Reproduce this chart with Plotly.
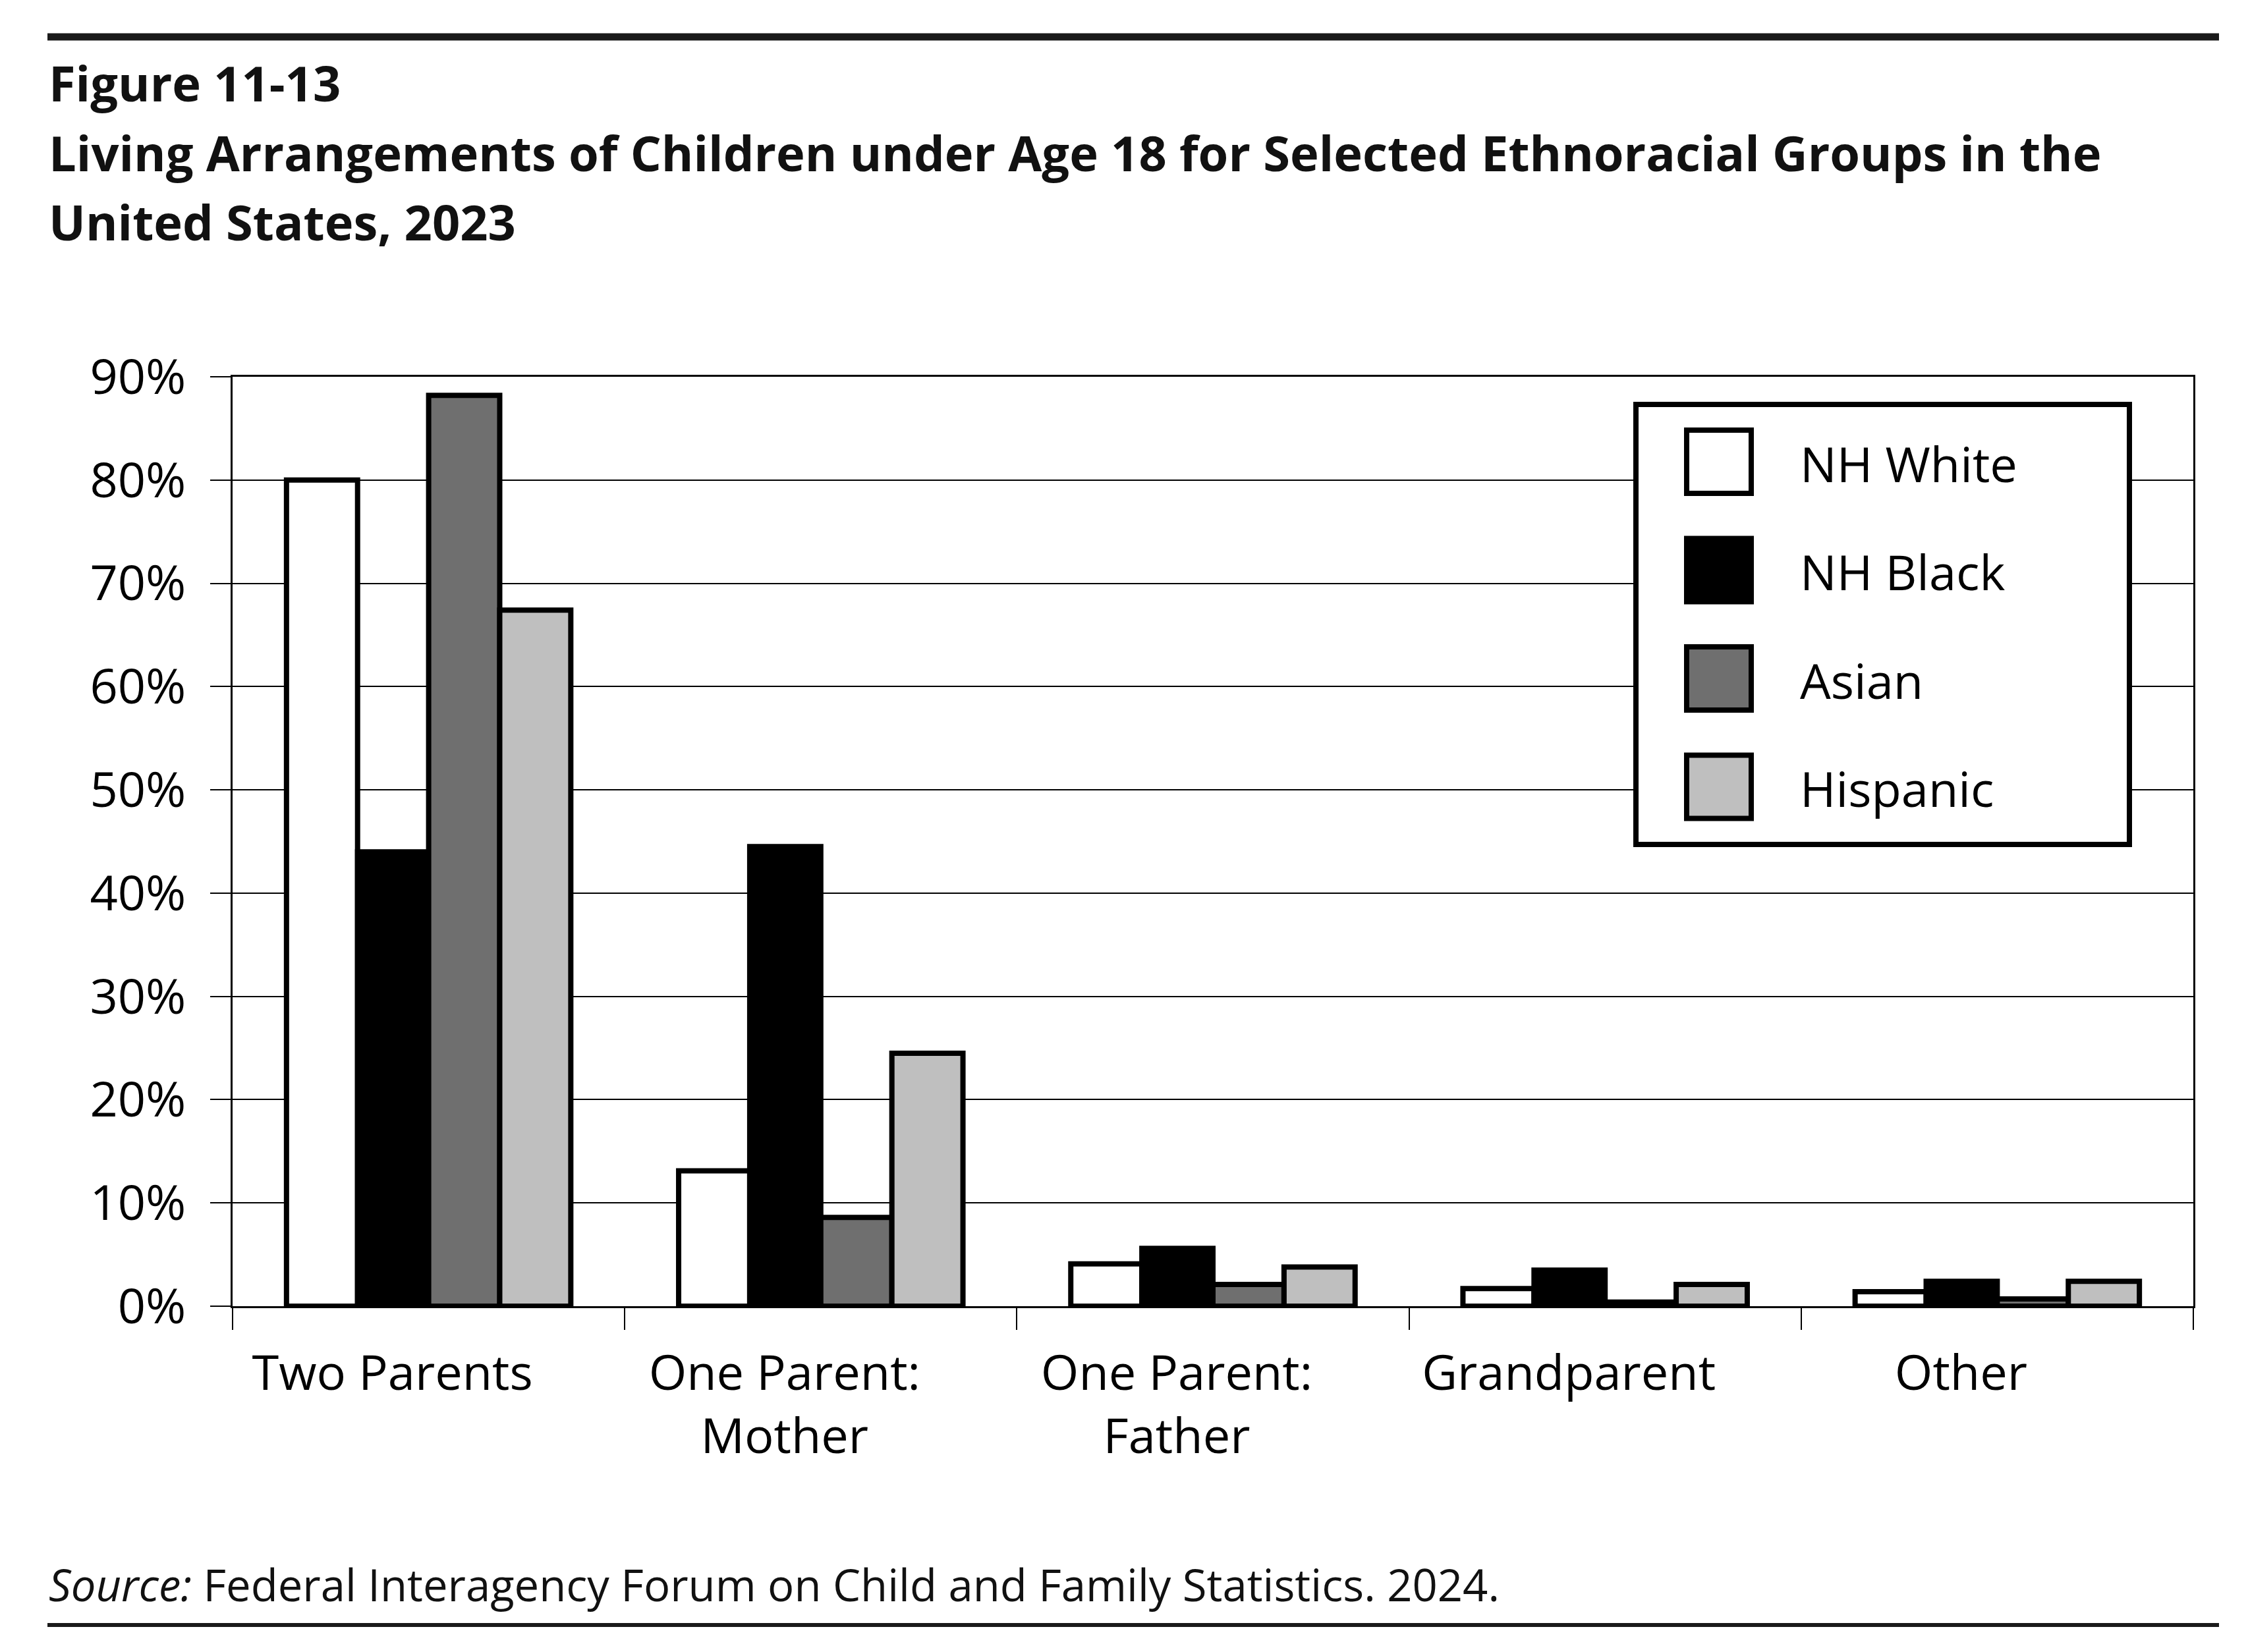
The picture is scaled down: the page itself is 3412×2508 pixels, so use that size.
import plotly.graph_objs as go

# categories and series
categories = ['Two Parents', 'One Parent:<br>Mother', 'One Parent:<br>Father', 'Grandparent', 'Other']
groups = ['NH White', 'NH Black', 'Asian', 'Hispanic']
nh_white = [80.0, 13.1, 4.1, 1.7, 1.4]
nh_black = [44.0, 44.5, 5.6, 3.5, 2.4]
asian = [88.2, 8.6, 2.1, 0.4, 0.7]
hispanic = [67.4, 24.5, 3.8, 2.1, 2.4]
y_ticks = [0, 10, 20, 30, 40, 50, 60, 70, 80, 90]
y_labels = ['0%', '10%', '20%', '30%', '40%', '50%', '60%', '70%', '80%', '90%']

title_lines = [
    'Figure 11-13',
    'Living Arrangements of Children under Age 18 for Selected Ethnoracial Groups in the',
    'United States, 2023',
]
source_text = '<i>Source:</i> Federal Interagency Forum on Child and Family Statistics. 2024.'

colors = ['#ffffff', '#000000', '#6f6f6f', '#bfbfbf']
series = [nh_white, nh_black, asian, hispanic]

W, H = 3412, 2508
# plot area in pixels
L, R, T, B = 353, 3329, 572, 1983
FONT = 'Open Sans, Noto Sans, sans-serif'


def px(x):
    return (x - L) / (R - L)


def py(y):
    return (B - y) / (B - T)


fig = go.Figure()

for name, vals, col in zip(groups, series, colors):
    fig.add_trace(go.Bar(x=categories, y=vals, name=name,
                         marker=dict(color=col, line=dict(color='black', width=8)),
                         showlegend=False))

shapes = []
annotations = []

# rules top and bottom
shapes.append(dict(type='line', xref='paper', yref='paper', x0=px(72), x1=px(3368),
                   y0=py(56), y1=py(56), line=dict(color='#1a1a1a', width=11)))
shapes.append(dict(type='line', xref='paper', yref='paper', x0=px(72), x1=px(3368),
                   y0=py(2467), y1=py(2467), line=dict(color='#1a1a1a', width=6)))

# title lines
for txt, yc in zip(title_lines, [126, 232, 336]):
    annotations.append(dict(text='<b>' + txt + '</b>', xref='paper', yref='paper',
                            x=px(72), y=py(yc), xanchor='left', yanchor='middle',
                            showarrow=False, font=dict(family=FONT, size=74, color='#111111')))

annotations.append(dict(text=source_text, xref='paper', yref='paper',
                        x=px(72), y=py(2405), xanchor='left', yanchor='middle',
                        showarrow=False, font=dict(family=FONT, size=67, color='#111111')))

# legend box drawn by hand so the swatches can be large
shapes.append(dict(type='rect', xref='paper', yref='paper', x0=px(2483), x1=px(3232),
                   y0=py(614), y1=py(1282), fillcolor='white', line=dict(color='black', width=8),
                   layer='above'))
for i, (name, col) in enumerate(zip(groups, colors)):
    yc = 701 + i * 164.5
    shapes.append(dict(type='rect', xref='paper', yref='paper', x0=px(2560), x1=px(2658),
                       y0=py(yc - 48), y1=py(yc + 48), fillcolor=col,
                       line=dict(color='black', width=8), layer='above'))
    annotations.append(dict(text=name, xref='paper', yref='paper', x=px(2730), y=py(yc + 2),
                            xanchor='left', yanchor='middle', showarrow=False,
                            font=dict(family=FONT, size=74, color='black')))

fig.update_layout(
    width=W, height=H,
    margin=dict(l=L, r=W - R, t=T, b=H - B, pad=0),
    paper_bgcolor='white', plot_bgcolor='white',
    barmode='group', bargap=0.275, bargroupgap=0,
    font=dict(family=FONT, size=74, color='black'),
    shapes=shapes, annotations=annotations,
    showlegend=False,
)

fig.update_xaxes(type='category', tickson='boundaries', ticks='outside', ticklen=33,
                 tickwidth=2, tickcolor='black', showgrid=False,
                 showline=True, linecolor='black', linewidth=3, mirror=True,
                 ticklabelshift=-55, ticklabelstandoff=35,
                 tickfont=dict(family=FONT, size=74, color='black'))

fig.update_yaxes(range=[0, 90], tickvals=y_ticks, ticktext=y_labels, ticks='outside', ticklen=31,
                 tickwidth=2, tickcolor='black', showgrid=True, gridcolor='black', gridwidth=2,
                 zeroline=False, showline=True, linecolor='black', linewidth=3, mirror=True,
                 ticklabelstandoff=22,
                 tickfont=dict(family=FONT, size=74, color='black'))

# drop the default page margin so the figure sits at the window corner
fig.write_html("out.html", config={'displayModeBar': False},
               post_script="document.body.style.margin = '0';")
